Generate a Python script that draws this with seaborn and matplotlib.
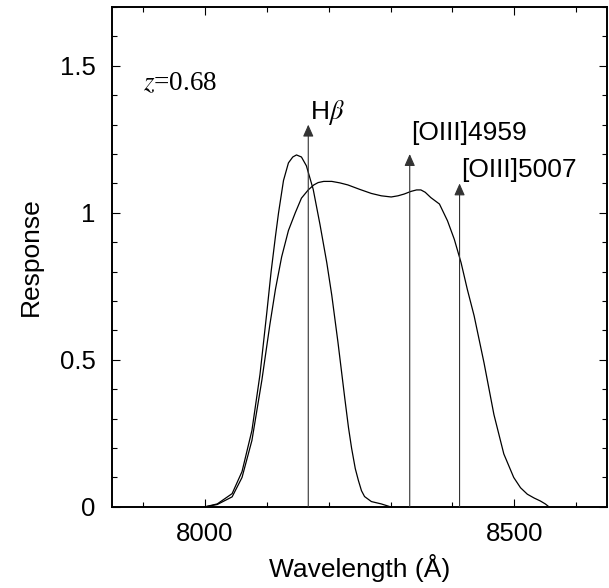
import matplotlib
matplotlib.use("Agg")
import matplotlib.pyplot as plt
import seaborn as sns
from matplotlib.ticker import MultipleLocator

# filter response curves
wl_a = [8000, 8020, 8044, 8060, 8076, 8089, 8100, 8107, 8114, 8119, 8127, 8135,
        8142, 8148, 8156, 8164, 8175, 8186, 8197, 8205, 8215, 8226, 8232, 8237,
        8243, 8248, 8253, 8258, 8269, 8285, 8300]
resp_a = [0.0, 0.01, 0.045, 0.12, 0.26, 0.45, 0.66, 0.80, 0.92, 1.00, 1.11, 1.17,
          1.19, 1.197, 1.19, 1.16, 1.08, 0.96, 0.83, 0.72, 0.56, 0.37, 0.27, 0.20,
          0.13, 0.09, 0.055, 0.035, 0.018, 0.01, 0.0]

wl_b = [8000, 8020, 8044, 8060, 8076, 8092, 8105, 8114, 8124, 8135, 8146, 8156,
        8167, 8176, 8183, 8192, 8205, 8218, 8231, 8250, 8269, 8285, 8301, 8312,
        8322, 8333, 8342, 8349, 8356, 8365, 8379, 8392, 8403, 8414, 8424, 8435,
        8451, 8467, 8483, 8499, 8510, 8521, 8532, 8542, 8550, 8556]
resp_b = [0.0, 0.008, 0.034, 0.10, 0.226, 0.43, 0.62, 0.74, 0.85, 0.94, 1.00, 1.05,
          1.078, 1.095, 1.103, 1.107, 1.107, 1.102, 1.095, 1.08, 1.066, 1.058, 1.054, 1.058,
          1.064, 1.073, 1.078, 1.078, 1.07, 1.052, 1.03, 0.973, 0.91, 0.83, 0.74, 0.65,
          0.49, 0.314, 0.18, 0.10, 0.065, 0.043, 0.03, 0.02, 0.01, 0.0]

# emission lines redshifted to z = 0.68
redshift = 0.68
line_names = [r"H$\beta$", "[OIII]4959", "[OIII]5007"]
line_rest = [4861.33, 4958.91, 5006.84]
arrow_tops = [1.30, 1.20, 1.10]
label_y = [1.34, 1.27, 1.145]

sns.set_theme(style="ticks")
plt.rcParams["font.family"] = ["Liberation Sans", "DejaVu Sans"]
plt.rcParams["mathtext.fontset"] = "stix"
for key in ["text.color", "axes.labelcolor", "xtick.color", "ytick.color"]:
    plt.rcParams[key] = "black"

fig = plt.figure(figsize=(6.09, 5.88), dpi=100)
ax = fig.add_axes([0.184, 0.138, 0.813, 0.850])

sns.lineplot(x=wl_a, y=resp_a, ax=ax, color="black", lw=0.9, sort=False)
sns.lineplot(x=wl_b, y=resp_b, ax=ax, color="black", lw=0.9, sort=False)

for name, rest, top, ly in zip(line_names, line_rest, arrow_tops, label_y):
    obs = rest * (1 + redshift)
    ax.annotate("", xy=(obs, top), xytext=(obs, 0),
                arrowprops=dict(arrowstyle="-|>,head_length=0.45,head_width=0.2",
                                color="#333333", lw=0.8, shrinkA=0, shrinkB=0,
                                mutation_scale=16))
    ax.text(obs + 2, ly, name, fontsize=19, ha="left", va="center")

ax.text(7900, 1.44, r"$z$=0.68", fontsize=19.5, family="Liberation Serif",
        ha="left", va="center")

ax.set_xlim(7850, 8650)
ax.set_ylim(0, 1.7)
ax.xaxis.set_major_locator(MultipleLocator(500))
ax.xaxis.set_minor_locator(MultipleLocator(100))
ax.yaxis.set_major_locator(MultipleLocator(0.5))
ax.yaxis.set_minor_locator(MultipleLocator(0.1))
ax.set_yticks([0, 0.5, 1, 1.5])
ax.set_yticklabels(["0", "0.5", "1", "1.5"])
ax.set_xticks([8000, 8500])
ax.set_xticklabels(["8000", "8500"])

ax.tick_params(which="both", direction="in", top=True, right=True,
               labelsize=18.5, color="black", labelcolor="black")
ax.tick_params(which="major", length=6, width=0.8)
ax.tick_params(which="minor", length=3.5, width=0.8)
ax.tick_params(axis="y", pad=12)
ax.tick_params(axis="x", pad=11)
for s in ax.spines.values():
    s.set_linewidth(1.4)
    s.set_color("black")

ax.set_xlabel("Wavelength (Å)", fontsize=19, labelpad=6)
ax.set_ylabel("Response", fontsize=19, labelpad=12)

fig.savefig("out.png", dpi=100)
